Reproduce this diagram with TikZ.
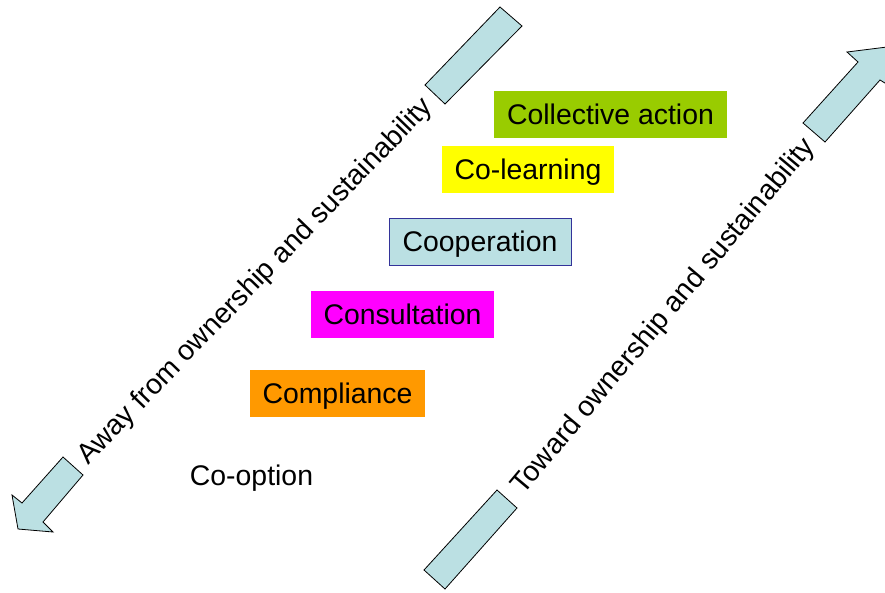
\documentclass[tikz,border=0pt]{standalone}
\usepackage{fontspec}
\setmainfont{Liberation Sans}
\definecolor{arrowblue}{HTML}{BBE0E3}
\definecolor{actgreen}{HTML}{99CC00}
\definecolor{learnyellow}{HTML}{FFFF00}
\definecolor{coopline}{HTML}{333399}
\definecolor{consmagenta}{HTML}{FF00FF}
\definecolor{complorange}{HTML}{FF9900}
\tikzset{
  stage/.style={inner sep=0pt, minimum height=47pt, text height=20pt, text depth=0pt,
    font=\fontsize{28.4}{34}\selectfont},
  blockarrow/.style={fill=arrowblue, draw=black, line width=0.8pt, line join=miter},
  axislabel/.style={fill=white, inner sep=1pt, text height=20pt, text depth=0pt,
    font=\fontsize{28.4}{34}\selectfont}
}
\begin{document}
\begin{tikzpicture}[x=1pt,y=-1pt]
\useasboundingbox (0,0) rectangle (885,592);
\clip (0,0) rectangle (885,592);
\def\awaytail{(500,7) -- (522,26) -- (445,104) -- (425,85) -- cycle}
\def\awayhead{(63,457) -- (83,475) -- (43,522) -- (53,532) -- (18,529) -- (12,495) -- (22,503) -- cycle}
\def\towardtail{(497,490) -- (517,508) -- (445,589) -- (424,570) -- cycle}
\def\towardhead{(825,142) -- (803,123) -- (858,62) -- (847,52) -- (887,47) -- (893,88) -- (880,80) -- cycle}

% away arrow, split by its label
\filldraw[blockarrow] \awaytail;
\filldraw[blockarrow] \awayhead;
\node[axislabel, rotate=46] (away) at (254,280) {Away from ownership and sustainability};

% toward arrow, split by its label
\filldraw[blockarrow] \towardtail;
\filldraw[blockarrow] \towardhead;
\node[axislabel, rotate=50] (toward) at (662,315) {Toward ownership and sustainability};

% the ladder
\node[stage, fill=actgreen, minimum width=233pt] (action) at (610.5,114.5) {Collective action};
\node[stage, fill=learnyellow, minimum width=172pt] (learning) at (528,169.5) {Co-learning};
\node[stage, fill=arrowblue, draw=coopline, line width=0.8pt, minimum width=182pt] (cooperation) at (480,241.5) {Cooperation};
\node[stage, fill=consmagenta, minimum width=183pt] (consultation) at (402.5,314.5) {Consultation};
\node[stage, fill=complorange, minimum width=175pt] (compliance) at (337.5,393.5) {Compliance};
\node[stage] (cooption) at (251.5,475) {Co-option};
\end{tikzpicture}
\end{document}
